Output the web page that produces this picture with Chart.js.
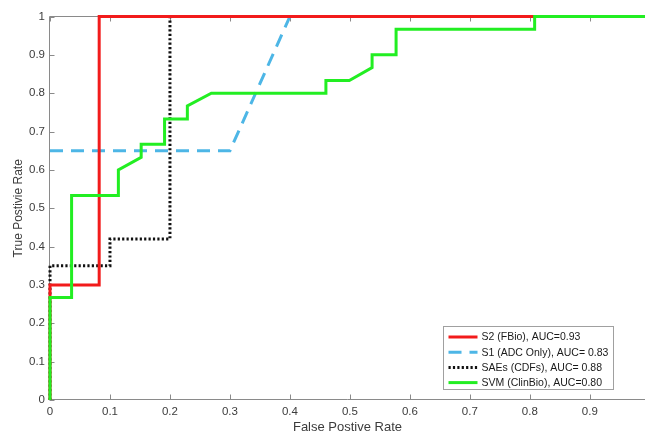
<!DOCTYPE html>
<html><head><meta charset="utf-8">
<script src="https://cdn.jsdelivr.net/npm/chart.js@4.4.0/dist/chart.umd.min.js"></script>
<style>html,body{margin:0;padding:0;background:#fff;overflow:hidden}#wrap{width:645px;height:437px;position:relative}</style>
</head><body><div id="wrap"><canvas id="c" width="645" height="437"></canvas></div>
<script>
// ---- data ----
const seriesLabels = ["S2 (FBio), AUC=0.93", "S1 (ADC Only), AUC= 0.83", "SAEs (CDFs), AUC= 0.88", "SVM (ClinBio), AUC=0.80"];
const s2X = [0, 0, 0.082, 0.082, 1];
const s2Y = [0, 0.30, 0.30, 1, 1];
const s1X = [0, 0.30, 0.40, 1];
const s1Y = [0.65, 0.65, 1, 1];
const saeX = [0, 0, 0.10, 0.10, 0.20, 0.20, 1];
const saeY = [0, 0.35, 0.35, 0.42, 0.42, 1, 1];
const svmX = [0, 0, 0.036, 0.036, 0.114, 0.114, 0.152, 0.152, 0.191, 0.191, 0.229, 0.229, 0.269, 0.46, 0.46, 0.499, 0.537, 0.537, 0.577, 0.577, 0.808, 0.808, 1];
const svmY = [0, 0.267, 0.267, 0.533, 0.533, 0.6, 0.633, 0.667, 0.667, 0.733, 0.733, 0.767, 0.8, 0.8, 0.833, 0.833, 0.867, 0.9, 0.9, 0.967, 0.967, 1, 1];
const xTicks = [0, 0.1, 0.2, 0.3, 0.4, 0.5, 0.6, 0.7, 0.8, 0.9];
const yTicks = [0, 0.1, 0.2, 0.3, 0.4, 0.5, 0.6, 0.7, 0.8, 0.9, 1];
const xTitle = "False Postive Rate";
const yTitle = "True Postivie Rate";

const toPts = (xs, ys) => xs.map((x, i) => ({x: x, y: ys[i]}));
const FONT = "'Liberation Sans', Arial, Helvetica, sans-serif";
const AXIS = '#8a8a8a';
const TXT = '#3c3c3c';

const styles = [
  {color: '#f21b1b', dash: [], order: 1},
  {color: '#4db6e6', dash: [13, 8], order: 3},
  {color: '#111111', dash: [2.2, 2.2], order: 2},
  {color: '#22ee22', dash: [], order: 0}
];
const pts = [toPts(s2X, s2Y), toPts(s1X, s1Y), toPts(saeX, saeY), toPts(svmX, svmY)];

const datasets = pts.map((p, i) => ({
  label: seriesLabels[i], data: p, borderColor: styles[i].color, borderDash: styles[i].dash,
  borderWidth: 3, pointRadius: 0, tension: 0, fill: false, order: styles[i].order, borderCapStyle: 'butt', clip: false
}));

const framePlugin = {
  id: 'frame',
  beforeDatasetsDraw(chart) {
    const ctx = chart.ctx, ca = chart.chartArea;
    const xs = chart.scales.x, ys = chart.scales.y;
    ctx.save();
    ctx.strokeStyle = AXIS; ctx.lineWidth = 1;
    const L = Math.round(ca.left) - 0.5, T = Math.floor(ca.top) + 0.5, B = Math.round(ca.bottom) - 0.5;
    ctx.beginPath();
    ctx.moveTo(L, T); ctx.lineTo(ca.right + 2, T);
    ctx.moveTo(L, T); ctx.lineTo(L, B);
    ctx.lineTo(ca.right + 2, B);
    xTicks.forEach(v => {
      const px = Math.round(xs.getPixelForValue(v)) + 0.5;
      ctx.moveTo(px, B); ctx.lineTo(px, B - 5);
      ctx.moveTo(px, T); ctx.lineTo(px, T + 5);
    });
    yTicks.forEach(v => {
      const py = Math.round(ys.getPixelForValue(v)) + 0.5;
      ctx.moveTo(L, py); ctx.lineTo(L + 5, py);
    });
    ctx.stroke();
    ctx.restore();
  }
};

const legendPlugin = {
  id: 'boxLegend',
  afterDraw(chart) {
    const ctx = chart.ctx, ca = chart.chartArea;
    ctx.save();
    ctx.font = '10.5px ' + FONT;
    let maxW = 0;
    seriesLabels.forEach(t => { maxW = Math.max(maxW, ctx.measureText(t).width); });
    const w = 38 + maxW + 5, h = 63;
    const right = ca.right - 32.5, bottom = ca.bottom - 11.5;
    const left = Math.round(right - w) + 0.5, top = Math.round(bottom - h) + 0.5;
    ctx.fillStyle = '#ffffff';
    ctx.fillRect(left, top, w, h);
    ctx.strokeStyle = '#a0a0a0'; ctx.lineWidth = 1;
    ctx.strokeRect(left, top, Math.round(w), h);
    seriesLabels.forEach((t, i) => {
      const y = top + 10.5 + i * 15.2;
      ctx.strokeStyle = styles[i].color; ctx.lineWidth = 3;
      ctx.setLineDash(styles[i].dash);
      ctx.beginPath(); ctx.moveTo(left + 5, y); ctx.lineTo(left + 34, y); ctx.stroke();
      ctx.setLineDash([]);
      ctx.fillStyle = '#1a1a1a'; ctx.textBaseline = 'middle'; ctx.textAlign = 'left';
      ctx.fillText(t, left + 38, y + 0.5);
    });
    ctx.restore();
  }
};

new Chart(document.getElementById('c'), {
  type: 'line',
  data: {datasets: datasets},
  plugins: [framePlugin, legendPlugin],
  options: {
    responsive: false, animation: false, devicePixelRatio: 1,
    layout: {padding: {top: 16.5, right: 0, left: 0, bottom: 0}},
    plugins: {legend: {display: false}, tooltip: {enabled: false}},
    scales: {
      x: {
        type: 'linear', min: 0, max: 0.992,
        afterBuildTicks: s => { s.ticks = xTicks.map(v => ({value: v})); },
        afterFit: s => { s.height = 37; s.paddingLeft = 0; s.paddingRight = 0; },
        grid: {display: false, drawTicks: false},
        border: {display: false},
        ticks: {autoSkip: false, maxRotation: 0, padding: 5, color: TXT, font: {family: FONT, size: 11.5}, callback: v => String(v)},
        title: {display: true, text: xTitle, color: TXT, font: {family: FONT, size: 13}, padding: {top: 0, bottom: 2.2}}
      },
      y: {
        type: 'linear', min: 0, max: 1,
        afterBuildTicks: s => { s.ticks = yTicks.map(v => ({value: v})); },
        afterFit: s => { s.width = 50; s.paddingTop = 0; s.paddingBottom = 0; },
        grid: {display: false, drawTicks: false},
        border: {display: false},
        ticks: {autoSkip: false, padding: 5, color: TXT, font: {family: FONT, size: 11.5}, callback: v => String(v)},
        title: {display: true, text: yTitle, color: TXT, font: {family: FONT, size: 12}, padding: {top: 11, bottom: 0}}
      }
    }
  }
});
</script></body></html>
